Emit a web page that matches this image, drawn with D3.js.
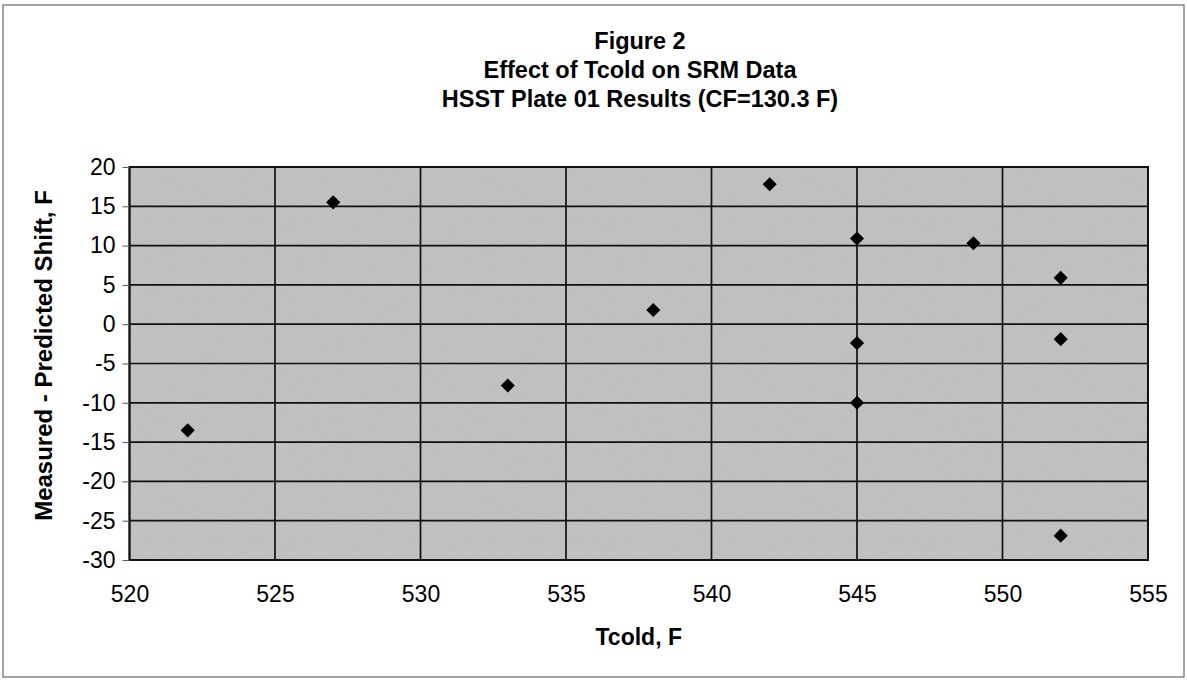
<!DOCTYPE html>
<html>
<head>
<meta charset="utf-8">
<script src="https://cdn.jsdelivr.net/npm/d3@7"></script>
<style>
  html, body { margin: 0; padding: 0; background: #ffffff; }
  svg { display: block; font-family: "Liberation Sans", Arial, sans-serif; }
</style>
</head>
<body>
<svg id="chart" width="1187" height="680"></svg>
<script>
// ---- Data ----
const titleLines = ["Figure 2", "Effect of Tcold on SRM Data", "HSST Plate 01 Results (CF=130.3 F)"];
const xLabel = "Tcold, F";
const yLabel = "Measured - Predicted Shift, F";
const tcold = [522, 527, 533, 538, 542, 545, 545, 545, 549, 552, 552, 552];
const shift = [-13.5, 15.5, -7.8, 1.8, 17.8, 10.9, -2.4, -10, 10.3, 5.9, -1.9, -26.9];
const xTicks = [520, 525, 530, 535, 540, 545, 550, 555];
const yTicks = [20, 15, 10, 5, 0, -5, -10, -15, -20, -25, -30];

// ---- Layout ----
const W = 1187, H = 680;
const plot = { left: 129.5, right: 1148, top: 167, bottom: 560 };
const svg = d3.select("#chart");

// texture filter to mimic the scanned, dithered grey fill
const defs = svg.append("defs");
const f = defs.append("filter").attr("id", "grain").attr("x", 0).attr("y", 0).attr("width", 1).attr("height", 1);
f.append("feTurbulence").attr("type", "fractalNoise").attr("baseFrequency", 0.8).attr("numOctaves", 2).attr("seed", 3).attr("result", "n");
f.append("feColorMatrix").attr("in", "n").attr("type", "matrix")
  .attr("values", "0 0 0 0 0.5  0 0 0 0 0.5  0 0 0 0 0.5  0 0 0 -1.6 1.25").attr("result", "dots");
f.append("feComposite").attr("in", "dots").attr("in2", "SourceGraphic").attr("operator", "atop");

// outer frame
svg.append("rect")
  .attr("x", 3).attr("y", 5).attr("width", W - 6).attr("height", H - 8)
  .attr("fill", "none").attr("stroke", "#666").attr("stroke-width", 1.2);

const x = d3.scaleLinear().domain([520, 555]).range([plot.left, plot.right]);
const y = d3.scaleLinear().domain([-30, 20]).range([plot.bottom, plot.top]);

// plot background
svg.append("rect")
  .attr("x", plot.left).attr("y", plot.top)
  .attr("width", plot.right - plot.left).attr("height", plot.bottom - plot.top)
  .attr("fill", "#c4c4c4");
svg.append("rect")
  .attr("x", plot.left).attr("y", plot.top)
  .attr("width", plot.right - plot.left).attr("height", plot.bottom - plot.top)
  .attr("fill", "#c4c4c4").attr("filter", "url(#grain)");

// gridlines
const g = svg.append("g");
g.selectAll("line.h").data(yTicks).join("line")
  .attr("x1", plot.left).attr("x2", plot.right)
  .attr("y1", d => y(d)).attr("y2", d => y(d))
  .attr("stroke", "#111").attr("stroke-width", 1.7);
g.selectAll("line.v").data(xTicks).join("line")
  .attr("y1", plot.top).attr("y2", plot.bottom)
  .attr("x1", d => x(d)).attr("x2", d => x(d))
  .attr("stroke", "#111").attr("stroke-width", 1.7);

// plot border
svg.append("rect")
  .attr("x", plot.left).attr("y", plot.top)
  .attr("width", plot.right - plot.left).attr("height", plot.bottom - plot.top)
  .attr("fill", "none").attr("stroke", "#111").attr("stroke-width", 2);

// axes
const fmt = d => String(d);
const yAxis = d3.axisLeft(y).tickValues(yTicks).tickSize(7).tickPadding(7).tickFormat(fmt);
const ya = svg.append("g").attr("transform", `translate(${plot.left},0)`).call(yAxis);
ya.select(".domain").remove();
ya.selectAll(".tick line").attr("stroke", "#555").attr("stroke-width", 1);
ya.selectAll(".tick text").attr("font-size", 23).attr("fill", "#000")
  .attr("font-family", "Liberation Sans, Arial, sans-serif");

const xAxis = d3.axisBottom(x).tickValues(xTicks).tickSize(0).tickPadding(26).tickFormat(fmt);
const xa = svg.append("g").attr("transform", `translate(0,${plot.bottom})`).call(xAxis);
xa.select(".domain").remove();
xa.selectAll(".tick text").attr("font-size", 23).attr("fill", "#000")
  .attr("font-family", "Liberation Sans, Arial, sans-serif");

// points
svg.append("g").selectAll("path").data(tcold.map((t, i) => [t, shift[i]])).join("path")
  .attr("d", d3.symbol().type(d3.symbolSquare).size(100))
  .attr("transform", d => `translate(${x(d[0])},${y(d[1])}) rotate(45)`)
  .attr("fill", "#000");

// titles
const tY = [43, 72, 101];
svg.append("g").selectAll("text").data(titleLines).join("text")
  .attr("x", 640).attr("y", (d, i) => tY[i])
  .attr("text-anchor", "middle").attr("dominant-baseline", "middle")
  .attr("font-size", 23.5).attr("font-weight", "bold").attr("fill", "#000")
  .text(d => d);

svg.append("text")
  .attr("x", (plot.left + plot.right) / 2).attr("y", 639)
  .attr("text-anchor", "middle").attr("dominant-baseline", "middle")
  .attr("font-size", 23).attr("font-weight", "bold").text(xLabel);

svg.append("text")
  .attr("transform", `translate(46,${(plot.top + plot.bottom) / 2 - 8}) rotate(-90)`)
  .attr("text-anchor", "middle").attr("dominant-baseline", "middle")
  .attr("font-size", 24).attr("font-weight", "bold").text(yLabel);
</script>
</body>
</html>
